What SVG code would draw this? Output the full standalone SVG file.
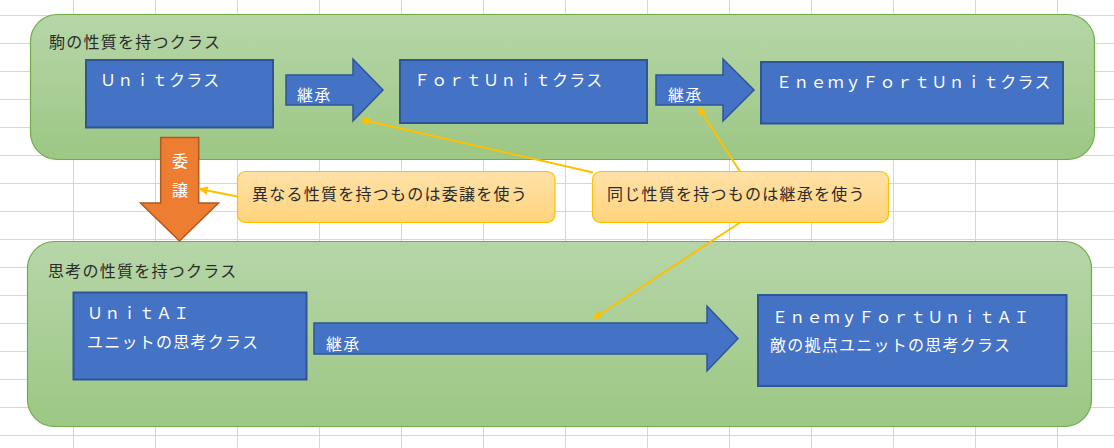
<svg xmlns="http://www.w3.org/2000/svg" width="1114" height="448" viewBox="0 0 1114 448">
<defs>
<style>
.grid line{stroke:#d6d6d6;stroke-width:1}
.cont{stroke:#70ad47;stroke-width:1.2;fill:url(#gGreen)}
.box{fill:#4472c4;stroke:#2f5597;stroke-width:2}
.arr{fill:#4472c4;stroke:#2f5597;stroke-width:1.5}
.call{fill:url(#gYel);stroke:#ffc000;stroke-width:1.2}
.t{font-family:"Noto Sans CJK JP","Noto Sans",sans-serif;font-size:16px;letter-spacing:1.25px}
.w{fill:#ffffff}
.k{fill:#2b2b2b}
.con line{stroke:#ffc000;stroke-width:2;fill:none}
</style>
<linearGradient id="gGreen" x1="0" y1="0" x2="0" y2="1">
<stop offset="0" stop-color="#b6d6a8"/>
<stop offset="1" stop-color="#9cc784"/>
</linearGradient>
<linearGradient id="gYel" x1="0" y1="0" x2="0" y2="1">
<stop offset="0" stop-color="#ffe1a8"/>
<stop offset="1" stop-color="#ffd47c"/>
</linearGradient>
<marker id="ah" viewBox="0 0 10 10" refX="9" refY="5" markerWidth="11" markerHeight="9" markerUnits="userSpaceOnUse" orient="auto">
<path d="M0,0 L10,5 L0,10 Z" fill="#ffc000"/>
</marker>
</defs>
<rect x="0" y="0" width="1114" height="448" fill="#ffffff"/>
<g class="grid">
<line x1="73.5" y1="0" x2="73.5" y2="448"/>
<line x1="155.5" y1="0" x2="155.5" y2="448"/>
<line x1="237.5" y1="0" x2="237.5" y2="448"/>
<line x1="319.5" y1="0" x2="319.5" y2="448"/>
<line x1="401.5" y1="0" x2="401.5" y2="448"/>
<line x1="483.5" y1="0" x2="483.5" y2="448"/>
<line x1="565.5" y1="0" x2="565.5" y2="448"/>
<line x1="647.5" y1="0" x2="647.5" y2="448"/>
<line x1="729.5" y1="0" x2="729.5" y2="448"/>
<line x1="811.5" y1="0" x2="811.5" y2="448"/>
<line x1="893.5" y1="0" x2="893.5" y2="448"/>
<line x1="975.5" y1="0" x2="975.5" y2="448"/>
<line x1="1057.5" y1="0" x2="1057.5" y2="448"/>
<line x1="0" y1="15.5" x2="1114" y2="15.5"/>
<line x1="0" y1="43.5" x2="1114" y2="43.5"/>
<line x1="0" y1="71.5" x2="1114" y2="71.5"/>
<line x1="0" y1="99.5" x2="1114" y2="99.5"/>
<line x1="0" y1="127.5" x2="1114" y2="127.5"/>
<line x1="0" y1="155.5" x2="1114" y2="155.5"/>
<line x1="0" y1="183.5" x2="1114" y2="183.5"/>
<line x1="0" y1="211.5" x2="1114" y2="211.5"/>
<line x1="0" y1="239.5" x2="1114" y2="239.5"/>
<line x1="0" y1="267.5" x2="1114" y2="267.5"/>
<line x1="0" y1="295.5" x2="1114" y2="295.5"/>
<line x1="0" y1="323.5" x2="1114" y2="323.5"/>
<line x1="0" y1="351.5" x2="1114" y2="351.5"/>
<line x1="0" y1="379.5" x2="1114" y2="379.5"/>
<line x1="0" y1="407.5" x2="1114" y2="407.5"/>
<line x1="0" y1="435.5" x2="1114" y2="435.5"/>
</g>
<g id="groupPiece">
<rect class="cont" x="30.5" y="14.5" width="1064" height="145" rx="27" ry="27"/>
<text class="t k" x="49" y="48">駒の性質を持つクラス</text>
</g>
<g id="groupThink">
<rect class="cont" x="27.5" y="241.5" width="1064" height="185" rx="27" ry="27"/>
<text class="t k" x="48" y="277">思考の性質を持つクラス</text>
</g>
<g id="nodeUnit">
<rect class="box" x="86" y="60" width="187" height="67.5"/>
<text class="t w" x="100" y="86">Ｕｎｉｔクラス</text>
</g>
<g id="nodeFortUnit">
<rect class="box" x="400" y="60" width="247" height="63"/>
<text class="t w" x="414" y="86">ＦｏｒｔＵｎｉｔクラス</text>
</g>
<g id="nodeEnemyFortUnit">
<rect class="box" x="761" y="62" width="302" height="61.5"/>
<text class="t w" x="776" y="88">ＥｎｅｍｙＦｏｒｔＵｎｉｔクラス</text>
</g>
<g id="nodeUnitAI">
<rect class="box" x="73.5" y="292.5" width="233" height="87"/>
<text class="t w" x="87" y="319">ＵｎｉｔＡＩ</text>
<text class="t w" x="87" y="348">ユニットの思考クラス</text>
</g>
<g id="nodeEnemyFortUnitAI">
<rect class="box" x="758" y="295" width="308.5" height="91"/>
<text class="t w" x="772" y="322.5">ＥｎｅｍｙＦｏｒｔＵｎｉｔＡＩ</text>
<text class="t w" x="770" y="351">敵の拠点ユニットの思考クラス</text>
</g>
<g id="arrowInherit1">
<polygon class="arr" points="286,75 353,75 353,59 383,90 353,121 353,105 286,105"/>
<text class="t w" x="297" y="101">継承</text>
</g>
<g id="arrowInherit2">
<polygon class="arr" points="656,75 723,75 723,59 754,90 723,121 723,105 656,105"/>
<text class="t w" x="668" y="101">継承</text>
</g>
<g id="arrowInherit3">
<polygon class="arr" points="314,323 707,323 707,306 738,338.5 707,371 707,354 314,354"/>
<text class="t w" x="326" y="350">継承</text>
</g>
<g id="arrowDelegate">
<polygon points="160.7,137.5 198.7,137.5 198.7,203 218.5,203 179.5,241 140.5,203 160.7,203" fill="#ed7d31" stroke="#ae5a21" stroke-width="1.5"/>
<text class="t w" x="180" y="167" text-anchor="middle" style="letter-spacing:0">委</text>
<text class="t w" x="180" y="196" text-anchor="middle" style="letter-spacing:0">譲</text>
</g>
<g id="calloutDelegate">
<rect class="call" x="237.5" y="171.5" width="317.5" height="51" rx="8" ry="8"/>
<text class="t k" x="252" y="200">異なる性質を持つものは委譲を使う</text>
</g>
<g id="calloutInherit">
<rect class="call" x="592.5" y="171.5" width="296" height="51" rx="8" ry="8"/>
<text class="t k" x="607" y="200">同じ性質を持つものは継承を使う</text>
</g>
<g id="connectors" class="con">
<line x1="237.5" y1="196.5" x2="199.5" y2="189" marker-end="url(#ah)"/>
<line x1="593" y1="172.5" x2="361" y2="119.5" marker-end="url(#ah)"/>
<line x1="740" y1="171.5" x2="698.5" y2="107.5" marker-end="url(#ah)"/>
<line x1="740" y1="222.5" x2="593.5" y2="318.5" marker-end="url(#ah)"/>
</g>
</svg>
